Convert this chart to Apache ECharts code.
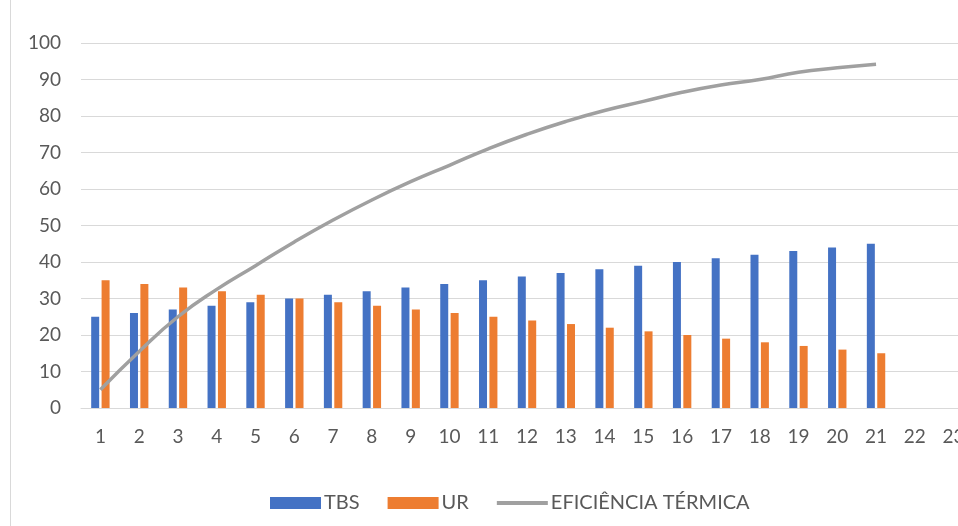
<!DOCTYPE html>
<html>
<head>
<meta charset="utf-8">
<script src="https://cdn.jsdelivr.net/npm/echarts@6/dist/echarts.min.js"></script>
<style>html,body{margin:0;padding:0;background:#fff;overflow:hidden;width:958px;height:526px}#c{width:973px;height:526px}</style>
</head>
<body>
<div id="c"></div>
<script>
const categories = ['1','2','3','4','5','6','7','8','9','10','11','12','13','14','15','16','17','18','19','20','21','22','23'];
const tbs = [25,26,27,28,29,30,31,32,33,34,35,36,37,38,39,40,41,42,43,44,45,null,null];
const ur = [35,34,33,32,31,30,29,28,27,26,25,24,23,22,21,20,19,18,17,16,15,null,null];
const eficiencia = [5,15.5,25,32.5,39,45.5,51.5,57,62,66.5,71,75,78.5,81.5,84,86.5,88.5,90,92,93.2,94.2,null,null];
const yTicks = {min:0, max:100, interval:10};

const chart = echarts.init(document.getElementById('c'));
const font = 'Lato, "Open Sans", sans-serif';
chart.setOption({
  animation:false,
  textStyle:{fontFamily:font},
  graphic:[{type:'line', shape:{x1:10.5,y1:0,x2:10.5,y2:526}, style:{stroke:'#d9d9d9', lineWidth:1}}],
  grid:{left:81, right:0, top:43, bottom:118, containLabel:false},
  legend:{
    top:488, left:265, itemGap:28, itemWidth:51, itemHeight:12,
    textStyle:{color:'#595959', fontSize:20, fontFamily:font, padding:[0,0,0,-2]},
    data:[{name:'TBS', icon:'rect'},{name:'UR', icon:'rect'},
          {name:'EFICIÊNCIA TÉRMICA', icon:'path://M0,0 L51,0 L51,4 L0,4 Z', itemStyle:{color:'#A0A0A0'}}]
  },
  xAxis:{
    type:'category', data:categories, boundaryGap:true,
    axisTick:{show:false},
    axisLine:{lineStyle:{color:'#d9d9d9', width:1}},
    axisLabel:{color:'#595959', fontSize:19, margin:19, interval:0}
  },
  yAxis:{
    type:'value', min:yTicks.min, max:yTicks.max, interval:yTicks.interval,
    axisLine:{show:false}, axisTick:{show:false},
    splitLine:{lineStyle:{color:'#d9d9d9', width:1}},
    axisLabel:{color:'#595959', fontSize:19, margin:20}
  },
  series:[
    {name:'TBS', type:'bar', data:tbs, barWidth:8, barGap:'30%', itemStyle:{color:'#4472C4'}},
    {name:'UR', type:'bar', data:ur, barWidth:8, barGap:'30%', itemStyle:{color:'#ED7D31'}},
    {name:'EFICIÊNCIA TÉRMICA', type:'line', data:eficiencia, smooth:true, symbol:'none',
     lineStyle:{color:'#A0A0A0', width:3.5}, itemStyle:{color:'#A0A0A0'}}
  ]
});
</script>
</body>
</html>
